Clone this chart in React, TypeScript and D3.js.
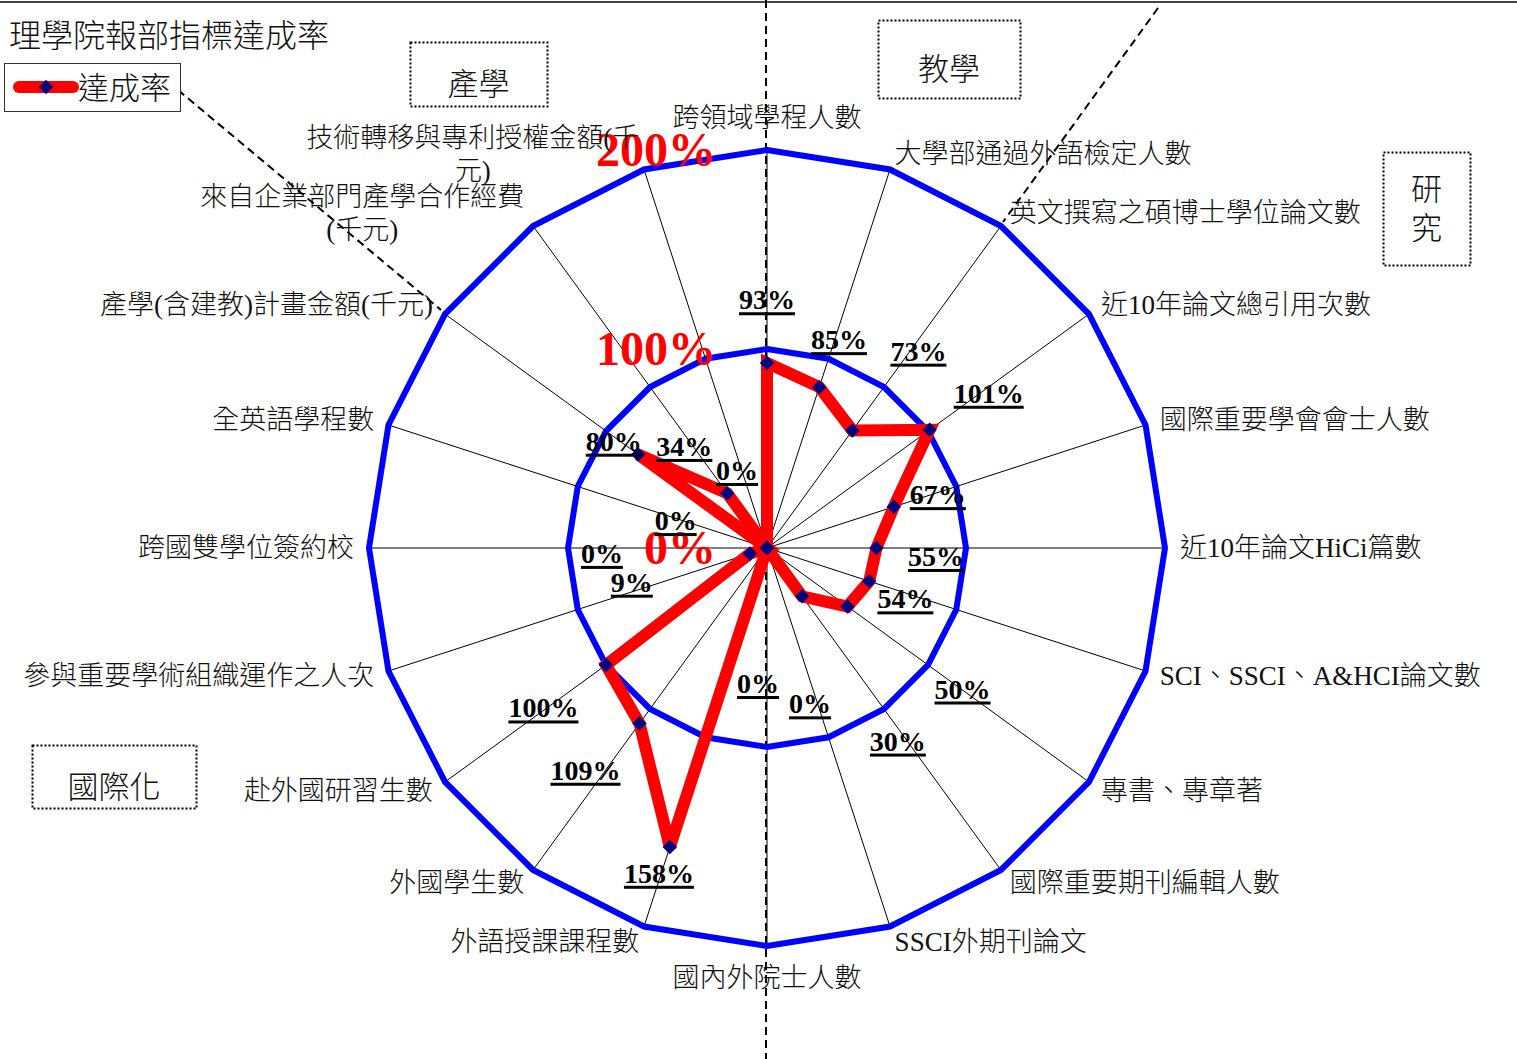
import * as d3 from 'd3'
import React, { useEffect, useRef } from 'react'

const title = '理學院報部指標達成率'
const seriesName = '達成率'

const categories = [
  '跨領域學程人數',
  '大學部通過外語檢定人數',
  '英文撰寫之碩博士學位論文數',
  '近10年論文總引用次數',
  '國際重要學會會士人數',
  '近10年論文HiCi篇數',
  'SCI、SSCI、A&HCI論文數',
  '專書、專章著',
  '國際重要期刊編輯人數',
  'SSCI外期刊論文',
  '國內外院士人數',
  '外語授課課程數',
  '外國學生數',
  '赴外國研習生數',
  '參與重要學術組織運作之人次',
  '跨國雙學位簽約校',
  '全英語學程數',
  '產學(含建教)計畫金額(千元)',
  '來自企業部門產學合作經費\n(千元)',
  '技術轉移與專利授權金額(千\n元)',
]

const rates = [93, 85, 73, 101, 67, 55, 54, 50, 30, 0, 0, 158, 109, 100, 9, 0, 0, 80, 34, 0]

const ringLevels = [100, 200]
const tickValues = [0, 100, 200]

// where each value label was dragged to: radius (in % units) and angle (degrees)
const labelRadius = [125, 111, 125, 136, 90, 85, 74, 121, 117, 81, 68, 172, 144, 138, 70, 83, 48, 94, 66, 42]
const labelAngle = [0, 19, 37.5, 55, 72.5, 92.7, 110, 125.7, 145.8, 164.5, 183.8, 198.4, 219.3, 234.5, 256, 268.3, 287, 305, 321, 339]

const groups = [
  { name: '產學', box: [410, 42, 137, 64] },
  { name: '教學', box: [878, 20, 142, 78] },
  { name: '研\n究', box: [1383, 152, 87, 113] },
  { name: '國際化', box: [32, 745, 164, 63] },
]

const W = 1517
const H = 1059
const cx = 767
const cy = 548
const R = 398

const latin = '"Liberation Serif", "Times New Roman", serif'
const mixed = '"Liberation Serif", "Noto Sans CJK TC", serif'

export default function App() {
  const ref = useRef<SVGSVGElement>(null)

  useEffect(() => {
    const svg = d3.select(ref.current)
    svg.selectAll('*').remove()

    const n = categories.length
    const r = d3.scaleLinear().domain([0, 200]).range([0, R])
    const ang = (i) => (i * 2 * Math.PI) / n
    const pt = (a, v) => [cx + r(v) * Math.sin(a), cy - r(v) * Math.cos(a)]

    // frame line at the top
    svg.append('line').attr('x1', 0).attr('x2', W).attr('y1', 2).attr('y2', 2)
      .attr('stroke', '#444').attr('stroke-width', 2)

    // dashed section dividers
    const dividers = [
      [766, 0, 766, H],
      [1158, 8, 1003, 222],
      [178, 90, 441, 310],
    ]
    svg.selectAll('line.div').data(dividers).join('line')
      .attr('class', 'div')
      .attr('x1', (d) => d[0]).attr('y1', (d) => d[1])
      .attr('x2', (d) => d[2]).attr('y2', (d) => d[3])
      .attr('stroke', '#000').attr('stroke-width', 2)
      .attr('stroke-dasharray', '8,5')

    const g = svg.append('g').attr('transform', `translate(${cx},${cy})`)

    // spokes
    g.selectAll('line.spoke').data(categories).join('line')
      .attr('class', 'spoke')
      .attr('x1', 0).attr('y1', 0)
      .attr('x2', (d, i) => r(200) * Math.sin(ang(i)))
      .attr('y2', (d, i) => -r(200) * Math.cos(ang(i)))
      .attr('stroke', '#000').attr('stroke-width', 1)

    // rings
    const ring = d3.lineRadial().angle((d, i) => ang(i)).radius((d) => r(d)).curve(d3.curveLinearClosed)
    g.selectAll('path.ring').data(ringLevels).join('path')
      .attr('class', 'ring')
      .attr('d', (lvl) => ring(categories.map(() => lvl)))
      .attr('fill', 'none').attr('stroke', '#0000ff').attr('stroke-width', 6)

    // series
    g.append('path')
      .attr('d', ring(rates))
      .attr('fill', 'none').attr('stroke', '#ff0000').attr('stroke-width', 12)
      .attr('stroke-linejoin', 'miter').attr('stroke-miterlimit', 3)

    const diamond = d3.symbol().type(d3.symbolSquare).size(105)
    g.selectAll('path.mk').data(rates).join('path')
      .attr('class', 'mk')
      .attr('d', diamond())
      .attr('transform', (v, i) => `translate(${r(v) * Math.sin(ang(i))},${-r(v) * Math.cos(ang(i))}) rotate(45)`)
      .attr('fill', '#000080')

    // red axis tick labels
    svg.selectAll('text.tick').data(tickValues).join('text')
      .attr('class', 'tick')
      .attr('x', cx - 51).attr('y', (v) => cy - r(v))
      .attr('dy', '0.34em')
      .attr('text-anchor', 'end')
      .attr('font-family', latin).attr('font-weight', 'bold').attr('font-size', 48)
      .attr('fill', '#ff0000')
      .text((v) => `${v}%`)

    // value labels (bold, underlined)
    rates.forEach((v, i) => {
      const [x, y] = pt((labelAngle[i] * Math.PI) / 180, labelRadius[i])
      const t = svg.append('text')
        .attr('x', x).attr('y', y + 10)
        .attr('text-anchor', 'middle')
        .attr('font-family', latin).attr('font-weight', 'bold').attr('font-size', 28)
        .attr('fill', '#000')
        .text(`${v}%`)
      const bb = (t.node() as SVGTextElement).getBBox()
      svg.append('rect')
        .attr('x', bb.x).attr('y', y + 13).attr('width', bb.width).attr('height', 3)
        .attr('fill', '#000')
    })

    // category labels
    categories.forEach((label, i) => {
      const a = ang(i)
      const s = Math.sin(a)
      const c = Math.cos(a)
      const [vx, vy] = pt(a, 200)
      const lines = label.split('\n')
      let x
      let yc
      let anchor
      if (Math.abs(s) < 0.01) {
        anchor = 'middle'
        x = vx
        yc = vy - c * 32
      } else {
        anchor = s > 0 ? 'start' : 'end'
        x = vx + 15 * s
        yc = vy - 16 * c
      }
      const lh = 33
      const top = yc - ((lines.length - 1) * lh) / 2
      const first = svg.append('text')
        .attr('x', x).attr('y', top + 9)
        .attr('text-anchor', anchor)
        .attr('font-family', mixed).attr('font-size', 27).attr('font-weight', 300)
        .attr('fill', '#111')
        .text(lines[0])
      if (lines.length > 1) {
        const w = (first.node() as SVGTextElement).getComputedTextLength()
        const mid = anchor === 'end' ? x - w / 2 : anchor === 'start' ? x + w / 2 : x
        lines.slice(1).forEach((ln, k) => {
          svg.append('text')
            .attr('x', mid).attr('y', top + (k + 1) * lh + 9)
            .attr('text-anchor', 'middle')
            .attr('font-family', mixed).attr('font-size', 27).attr('font-weight', 300)
            .attr('fill', '#111')
            .text(ln)
        })
      }
    })

    // group boxes
    groups.forEach((gr) => {
      const [bx, by, bw, bh] = gr.box
      svg.append('rect')
        .attr('x', bx + 0.5).attr('y', by + 0.5).attr('width', bw).attr('height', bh)
        .attr('fill', 'none').attr('stroke', '#000').attr('stroke-width', 2)
        .attr('stroke-dasharray', '2,2')
      const lines = gr.name.split('\n')
      const lh = 39
      const top = by + bh / 2 - ((lines.length - 1) * lh) / 2 + (lines.length > 1 ? 0 : 10)
      lines.forEach((ln, k) => {
        svg.append('text')
          .attr('x', bx + bw / 2).attr('y', top + k * lh + 11)
          .attr('text-anchor', 'middle')
          .attr('font-family', mixed).attr('font-size', 31).attr('font-weight', 300)
          .attr('fill', '#111')
          .text(ln)
      })
    })

    // title
    svg.append('text')
      .attr('x', 9).attr('y', 47)
      .attr('font-family', mixed).attr('font-size', 32).attr('font-weight', 300)
      .attr('fill', '#111')
      .text(title)

    // legend
    const lg = svg.append('g')
    lg.append('rect').attr('x', 4.5).attr('y', 63.5).attr('width', 176).attr('height', 48)
      .attr('fill', '#fff').attr('stroke', '#333').attr('stroke-width', 1)
    lg.append('line').attr('x1', 19).attr('x2', 73).attr('y1', 87).attr('y2', 87)
      .attr('stroke', '#ff0000').attr('stroke-width', 12).attr('stroke-linecap', 'round')
    lg.append('path').attr('d', diamond()).attr('transform', 'translate(46,87) rotate(45)').attr('fill', '#000080')
    lg.append('text').attr('x', 78).attr('y', 99)
      .attr('font-family', mixed).attr('font-size', 31).attr('font-weight', 300)
      .attr('fill', '#111')
      .text(seriesName)
  }, [])

  return (
    <svg
      ref={ref}
      width={W}
      height={H}
      style={{ position: 'absolute', left: 0, top: 0, background: '#fff' }}
    />
  )
}
